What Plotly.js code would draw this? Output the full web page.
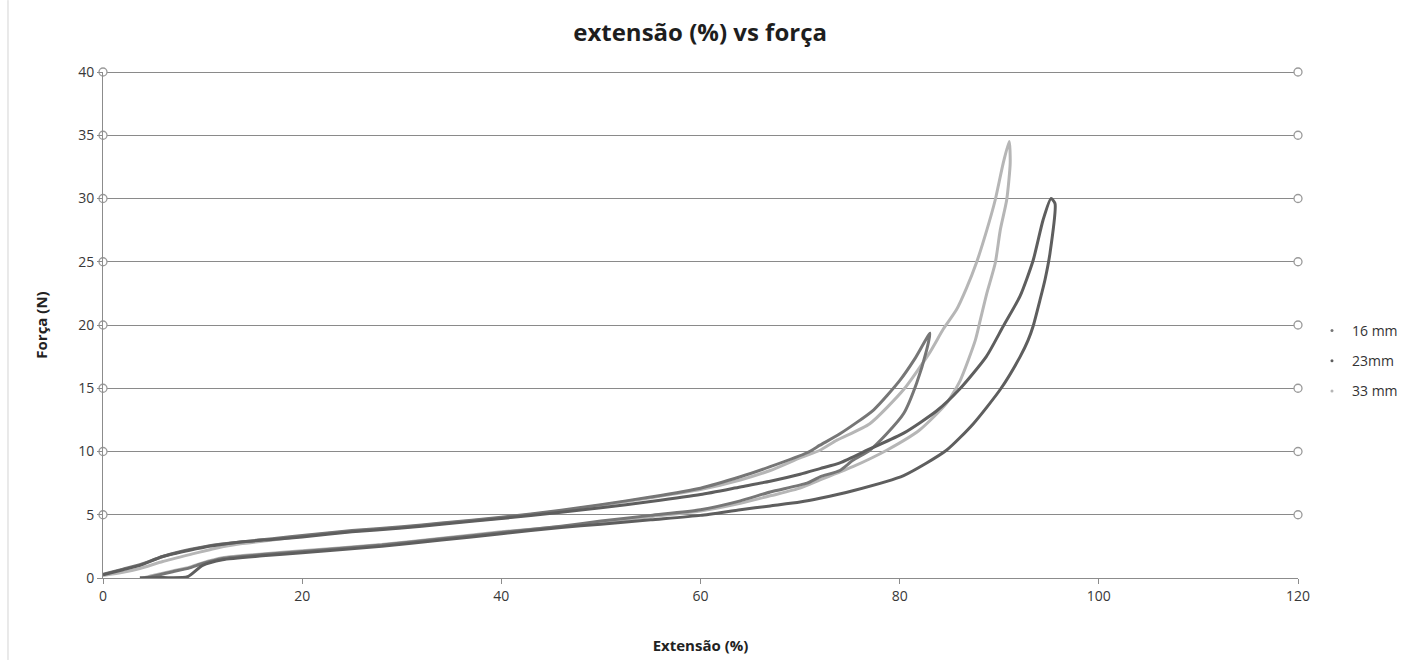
<!DOCTYPE html>
<html>
<head>
<meta charset="utf-8">
<script src="https://cdn.plot.ly/plotly-3.0.1.min.js"></script>
<style>html,body{margin:0;padding:0;background:#fff;}#chart{width:1423px;height:660px;}</style>
</head>
<body>
<div id="chart"></div>
<script>
// ---- data ----
const seriesNames = ["16 mm", "23mm", "33 mm"];
const seriesColors = ["#767676", "#5e5e5e", "#b6b6b6"];

// 16 mm : loading then unloading
const load16X = [0, 2, 3.7, 6, 8.7, 11, 13.8, 17, 20.5, 25, 30, 34, 40, 46, 50, 55, 60, 64, 67, 70.7, 72, 74, 77.4, 80, 81.5, 83.05];
const load16Y = [0.3, 0.7, 1.05, 1.7, 2.25, 2.6, 2.85, 3.1, 3.4, 3.75, 4.05, 4.35, 4.8, 5.35, 5.8, 6.4, 7.1, 8.0, 8.8, 9.9, 10.5, 11.4, 13.3, 15.6, 17.3, 19.35];
const unload16X = [82.7, 81.7, 80.4, 78.7, 77, 75.3, 74, 72, 70.7, 67, 64, 60, 55, 50, 46, 40, 34, 28, 20, 16, 12, 10, 8.7, 7, 5.4, 4.2];
const unload16Y = [18.0, 15.4, 13.0, 11.4, 10.1, 9.3, 8.5, 8.0, 7.5, 6.8, 6.1, 5.4, 4.95, 4.5, 4.1, 3.6, 3.1, 2.6, 2.1, 1.85, 1.55, 1.15, 0.8, 0.5, 0.2, 0.0];

// 23mm
const load23X = [0, 2, 3.7, 6, 8.7, 11, 13.8, 17, 20, 25, 30, 34, 40, 46, 50, 55, 60, 64, 67, 70, 72, 74, 77, 80.4, 83.7, 86.1, 88.7, 90.4, 92.1, 93.4, 94.4, 95.2];
const load23Y = [0.25, 0.65, 1.0, 1.7, 2.2, 2.55, 2.85, 3.05, 3.25, 3.65, 3.95, 4.25, 4.7, 5.2, 5.55, 6.05, 6.6, 7.2, 7.65, 8.2, 8.65, 9.1, 10.2, 11.45, 13.2, 15.0, 17.5, 19.9, 22.3, 25.1, 28.3, 30.0];
const unload23X = [95.6, 95.1, 94.6, 94.1, 93.4, 92.9, 92.1, 90.1, 87.4, 84.7, 80.4, 75.3, 72, 70, 67, 64, 60, 55, 50, 46, 40, 34, 28, 20, 16, 12, 10, 8.5, 6, 3.7];
const unload23Y = [29.6, 25.7, 23.6, 22.0, 19.9, 18.8, 17.5, 14.9, 12.2, 10.1, 8.1, 6.9, 6.3, 6.0, 5.7, 5.4, 4.95, 4.6, 4.25, 4.0, 3.5, 3.0, 2.5, 2.0, 1.75, 1.45, 1.0, 0.1, 0.03, 0.02];

// 33 mm
const load33X = [0, 2, 3.7, 6, 8.7, 11, 13.8, 17, 20.5, 25, 30, 34, 40, 46, 50, 55, 60, 64, 67, 70, 72, 73.7, 77, 80.4, 83, 84.4, 85.7, 86.7, 87.7, 88.75, 89.6, 90.4, 91.0];
const load33Y = [0.2, 0.45, 0.75, 1.3, 1.85, 2.3, 2.7, 3.0, 3.35, 3.7, 4.0, 4.3, 4.75, 5.3, 5.75, 6.35, 7.0, 7.75, 8.5, 9.5, 10.1, 10.9, 12.2, 14.9, 17.8, 19.7, 21.2, 22.9, 24.9, 27.5, 29.9, 32.8, 34.5];
const unload33X = [91.1, 90.75, 90.1, 89.6, 88.75, 88.1, 87.6, 86.1, 84.7, 82.0, 78.7, 75.3, 72, 70, 67, 64, 60, 55, 50, 47.9, 40, 34, 28, 20, 16, 12, 10, 8.7, 7, 5, 4];
const unload33Y = [32.8, 29.9, 27.5, 24.9, 22.5, 20.4, 18.8, 15.65, 13.8, 11.7, 10.1, 8.8, 7.75, 7.1, 6.5, 5.9, 5.3, 4.85, 4.4, 4.2, 3.65, 3.15, 2.65, 2.15, 1.9, 1.6, 1.2, 0.85, 0.55, 0.2, 0.0];

const xTicks = [0, 20, 40, 60, 80, 100, 120];
const yTicks = [0, 5, 10, 15, 20, 25, 30, 35, 40];

// ---- build traces ----
const curves = [
  [load16X.concat(unload16X), load16Y.concat(unload16Y)],
  [load23X.concat(unload23X), load23Y.concat(unload23Y)],
  [load33X.concat(unload33X), load33Y.concat(unload33Y)]
];
const traces = [];
[2, 0, 1].forEach(i => {
  traces.push({
    x: curves[i][0], y: curves[i][1], type: 'scatter', mode: 'lines',
    line: {color: seriesColors[i], width: 3, shape: 'spline', smoothing: 0.6},
    showlegend: false, hoverinfo: 'x+y', name: seriesNames[i]
  });
});
seriesNames.forEach((n, i) => {
  traces.push({
    x: [null], y: [null], type: 'scatter', mode: 'markers', name: n,
    legendgroup: 'g' + i,
    marker: {color: seriesColors[i], size: 3}
  });
});
const gy = yTicks.filter(v => v > 0);
traces.push({
  x: gy.map(() => xTicks[0]).concat(gy.map(() => xTicks[xTicks.length - 1])),
  y: gy.concat(gy), type: 'scatter', mode: 'markers', showlegend: false,
  hoverinfo: 'skip', cliponaxis: false,
  marker: {symbol: 'circle', size: 8, color: '#ffffff', line: {color: '#9a9a9a', width: 1.3}}
});

const yMax = yTicks[yTicks.length - 1];
const layout = {
  width: 1423, height: 660,
  margin: {l: 103, r: 125, t: 72, b: 82},
  paper_bgcolor: '#ffffff', plot_bgcolor: '#ffffff',
  font: {family: 'Open Sans, Noto Sans, sans-serif', color: '#404040', size: 13},
  title: {text: 'extensão (%) vs força', x: 0.492, xanchor: 'center', y: 0.95, yanchor: 'middle',
          font: {size: 24, color: '#1e1e1e', family: 'Open Sans, sans-serif', weight: 'bold'}},
  xaxis: {
    range: [0, 120], tickvals: xTicks, ticktext: xTicks.map(String),
    showgrid: false, zeroline: false, showline: true, linecolor: '#8c8c8c', linewidth: 1,
    ticks: 'outside', ticklen: 5, tickcolor: '#8c8c8c',
    tickfont: {size: 14, color: '#383838'},
    title: {text: '<b>Extensão (%)</b>', standoff: 36, font: {size: 15, color: '#222222'}},
    fixedrange: true
  },
  yaxis: {
    range: [0, yMax], tickvals: yTicks, ticktext: yTicks.map(String),
    showgrid: true, gridcolor: '#8a8a8a', gridwidth: 1,
    zeroline: false, showline: true, linecolor: '#8c8c8c', linewidth: 1,
    ticks: 'outside', ticklen: 5, tickcolor: '#8c8c8c',
    tickfont: {size: 14, color: '#383838'},
    title: {text: '<b>Força (N)</b>', standoff: 26, font: {size: 15, color: '#222222'}},
    fixedrange: true
  },
  legend: {
    x: 1.0117, xanchor: 'left', y: 0.52, yanchor: 'top',
    font: {size: 14, color: '#333333'}, tracegroupgap: 9,
    bgcolor: 'rgba(0,0,0,0)'
  },
  shapes: [
    {type: 'line', xref: 'paper', yref: 'paper',
     x0: -0.0795, x1: -0.0795, y0: -0.162, y1: 1.142,
     line: {color: '#d4d4d4', width: 1}},
    {type: 'line', xref: 'x', yref: 'y', layer: 'below',
     x0: xTicks[0], x1: xTicks[xTicks.length - 1], y0: yMax, y1: yMax,
     line: {color: '#8a8a8a', width: 2}}
  ]
};

Plotly.newPlot('chart', traces, layout, {displayModeBar: false, staticPlot: true});
</script>
</body>
</html>
